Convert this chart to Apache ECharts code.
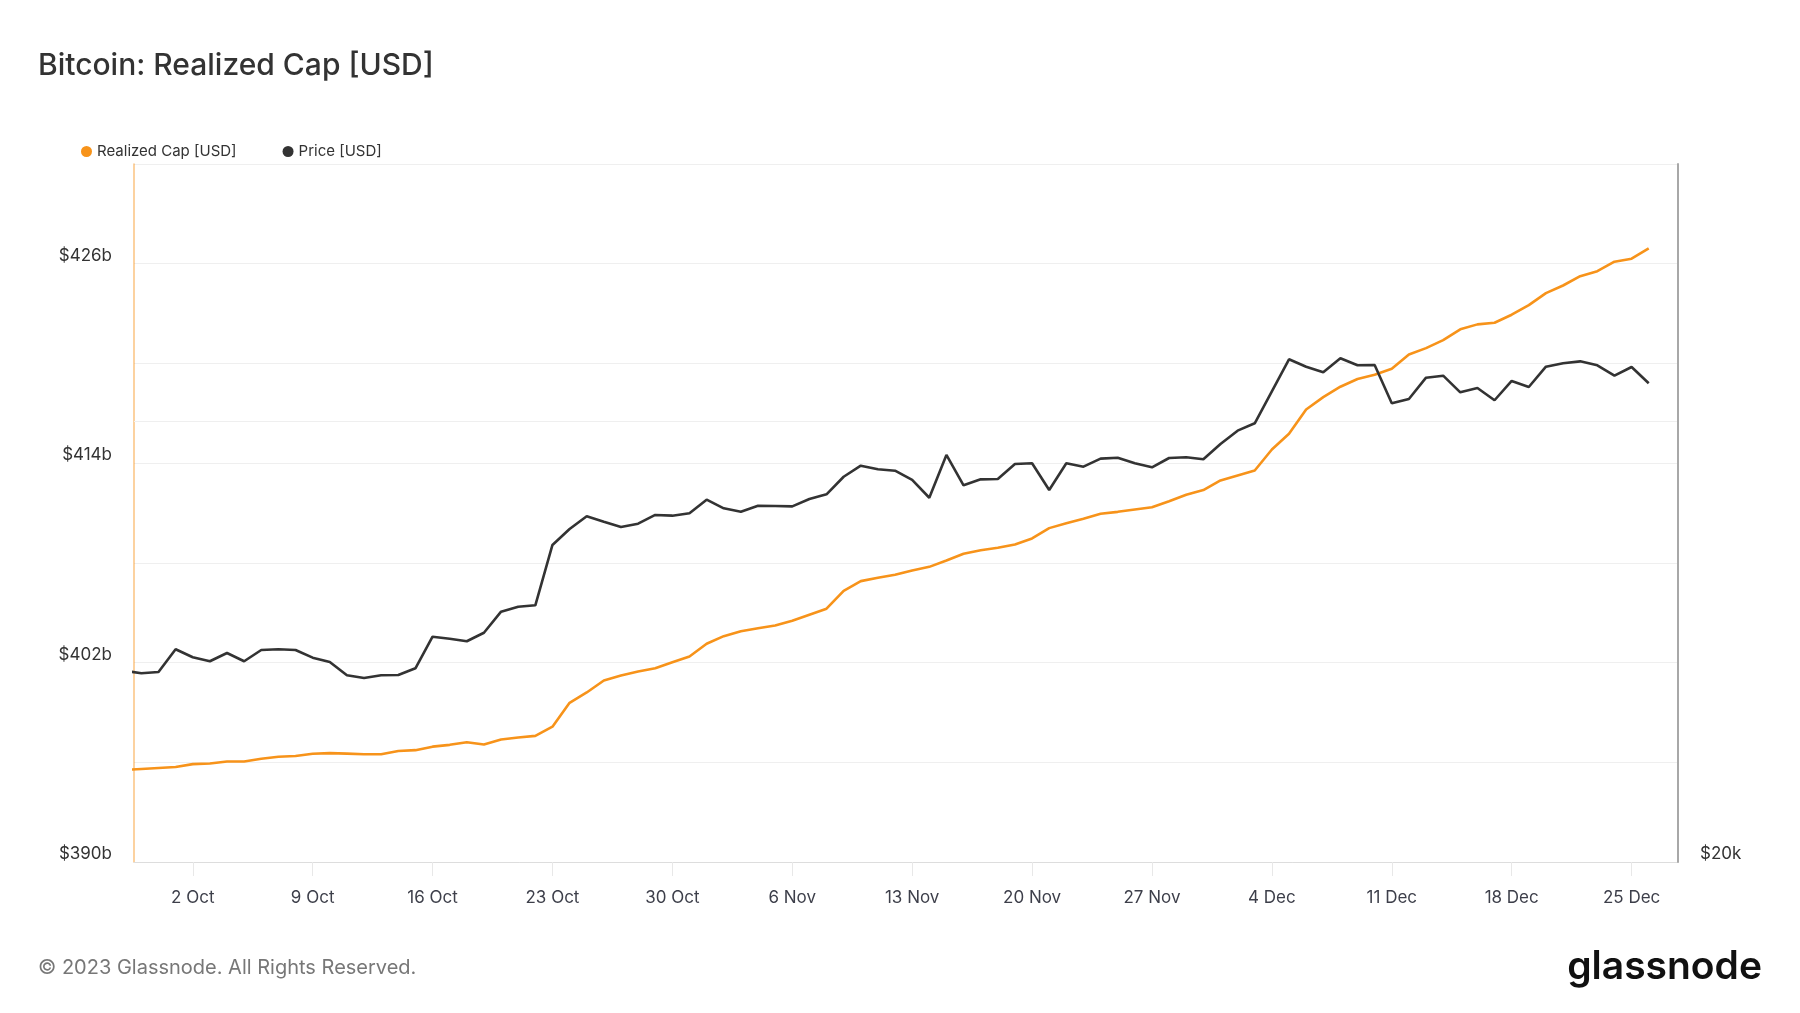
<!DOCTYPE html>
<html>
<head>
<meta charset="utf-8">
<script src="https://cdn.jsdelivr.net/npm/echarts@6/dist/echarts.min.js"></script>
<style>
  html, body { margin: 0; padding: 0; background: #ffffff; }
  #chart { width: 1800px; height: 1013px; }
</style>
</head>
<body>
<div id="chart"></div>
<script>
// ---- Data ----
const dates = [
  '2023-09-28','2023-09-29','2023-09-30',
  '2023-10-01','2023-10-02','2023-10-03','2023-10-04','2023-10-05','2023-10-06','2023-10-07',
  '2023-10-08','2023-10-09','2023-10-10','2023-10-11','2023-10-12','2023-10-13','2023-10-14',
  '2023-10-15','2023-10-16','2023-10-17','2023-10-18','2023-10-19','2023-10-20','2023-10-21',
  '2023-10-22','2023-10-23','2023-10-24','2023-10-25','2023-10-26','2023-10-27','2023-10-28',
  '2023-10-29','2023-10-30','2023-10-31',
  '2023-11-01','2023-11-02','2023-11-03','2023-11-04','2023-11-05','2023-11-06','2023-11-07',
  '2023-11-08','2023-11-09','2023-11-10','2023-11-11','2023-11-12','2023-11-13','2023-11-14',
  '2023-11-15','2023-11-16','2023-11-17','2023-11-18','2023-11-19','2023-11-20','2023-11-21',
  '2023-11-22','2023-11-23','2023-11-24','2023-11-25','2023-11-26','2023-11-27','2023-11-28',
  '2023-11-29','2023-11-30',
  '2023-12-01','2023-12-02','2023-12-03','2023-12-04','2023-12-05','2023-12-06','2023-12-07',
  '2023-12-08','2023-12-09','2023-12-10','2023-12-11','2023-12-12','2023-12-13','2023-12-14',
  '2023-12-15','2023-12-16','2023-12-17','2023-12-18','2023-12-19','2023-12-20','2023-12-21',
  '2023-12-22','2023-12-23','2023-12-24','2023-12-25','2023-12-26'
];

// Realized Cap in billions USD
const realizedCap = [
  395.53, 395.60, 395.66,
  395.72, 395.89, 395.93, 396.05, 396.05, 396.21, 396.33,
  396.38, 396.51, 396.55, 396.52, 396.48, 396.48, 396.68,
  396.73, 396.94, 397.05, 397.21, 397.07, 397.37, 397.49,
  397.59, 398.14, 399.58, 400.20, 400.92, 401.22, 401.46,
  401.66, 402.02, 402.37,
  403.13, 403.59, 403.89, 404.07, 404.23, 404.52, 404.88,
  405.24, 406.32, 406.90, 407.10, 407.28, 407.54, 407.76,
  408.14, 408.55, 408.76, 408.91, 409.11, 409.47, 410.09,
  410.39, 410.66, 410.95, 411.07, 411.21, 411.35, 411.71,
  412.10, 412.38,
  412.96, 413.26, 413.56, 414.82, 415.77, 417.23, 417.97,
  418.60, 419.06, 419.32, 419.68, 420.54, 420.92, 421.40,
  422.05, 422.35, 422.45, 422.93, 423.51, 424.23, 424.69,
  425.25, 425.55, 426.12, 426.30, 426.92
];

// BTC price in USD
const price = [
  27028, 26916, 26972,
  27954, 27604, 27431, 27792, 27431, 27922, 27954,
  27922, 27587, 27400, 26832, 26718, 26832, 26844,
  27130, 28512, 28424, 28308, 28692, 29658, 29892,
  29957, 32942, 33780, 34462, 34170, 33888, 34064,
  34534, 34496, 34626,
  35374, 34898, 34714, 35042, 35024, 35006, 35414,
  35674, 36676, 37320, 37108, 37026, 36490, 35484,
  37954, 36186, 36526, 36544, 37416, 37460, 35920,
  37460, 37262, 37734, 37790, 37460, 37224, 37774,
  37816, 37696,
  38616, 39434, 39894, 41956, 44122, 43612, 43230,
  44190, 43706, 43726, 41174, 41452, 42864, 42998,
  41888, 42174, 41368, 42642, 42240, 43612, 43844,
  43980, 43706, 42998, 43590, 42486
];

// x-axis tick labels
const tickDates = ['2023-10-02','2023-10-09','2023-10-16','2023-10-23','2023-10-30','2023-11-06',
  '2023-11-13','2023-11-20','2023-11-27','2023-12-04','2023-12-11','2023-12-18','2023-12-25'];
const tickLabels = ['2 Oct','9 Oct','16 Oct','23 Oct','30 Oct','6 Nov','13 Nov','20 Nov',
  '27 Nov','4 Dec','11 Dec','18 Dec','25 Dec'];

// left axis labelled values, right axis labelled values
const capLabelValues = [390, 402, 414, 426];
const priceLabelValues = [20000];
const priceLabelTexts = ['$20k'];

// ---- Build chart ----
const DAY = 86400000;
function toUtc(s) {
  const p = s.split('-').map(Number);
  return Date.UTC(p[0], p[1] - 1, p[2]);
}
const ref = toUtc('2023-10-02');
function dayIndex(s) { return Math.round((toUtc(s) - ref) / DAY); }

const tickX = tickDates.map(dayIndex);
const capSeries = dates.map((d, i) => [dayIndex(d), realizedCap[i]]);
const priceSeries = dates.map((d, i) => [dayIndex(d), price[i]]);

// visible date window (days relative to 2 Oct)
const xMin = -3.43;
const xMax = 86.71;

const FONT = 'Inter, "Noto Sans", sans-serif';

const chart = echarts.init(document.getElementById('chart'), null, { renderer: 'canvas' });
chart.setOption({
  animation: false,
  backgroundColor: '#ffffff',
  textStyle: { fontFamily: FONT },
  title: {
    text: 'Bitcoin: Realized Cap [USD]',
    left: 33,
    top: 46,
    textStyle: { fontFamily: FONT, fontSize: 30, fontWeight: 500, color: '#333333' }
  },
  legend: {
    left: 76,
    top: 139,
    icon: 'circle',
    itemWidth: 11,
    itemHeight: 11,
    itemGap: 46,
    textStyle: { fontFamily: FONT, fontSize: 15, color: '#333333' },
    data: ['Realized Cap [USD]', 'Price [USD]']
  },
  grid: { left: 134, right: 122, top: 164, bottom: 151, containLabel: false },
  xAxis: {
    type: 'value',
    min: xMin,
    max: xMax,
    axisLine: { show: true, onZero: false, lineStyle: { color: '#dddddd', width: 1 } },
    axisTick: {
      show: true, length: 14, customValues: tickX,
      lineStyle: { color: '#e8e8e8', width: 1 }
    },
    axisLabel: {
      customValues: tickX,
      margin: 27,
      fontFamily: FONT,
      fontSize: 17,
      color: '#3d3f4a',
      formatter: function (v) {
        let best = 0, bd = Infinity;
        tickX.forEach((t, i) => { const d = Math.abs(t - v); if (d < bd) { bd = d; best = i; } });
        return tickLabels[best];
      }
    },
    splitLine: { show: false }
  },
  yAxis: [
    {
      type: 'value',
      min: 390,
      max: 432,
      interval: 6,
      position: 'left',
      axisLine: { show: true, onZero: false, lineStyle: { color: 'rgba(247,147,26,0.55)', width: 1.5 } },
      axisTick: { show: false },
      axisLabel: {
        margin: 22,
        fontFamily: FONT,
        fontSize: 17,
        lineHeight: 16,
        color: '#333333',
        verticalAlign: 'bottom',
        formatter: function (v) {
          return capLabelValues.indexOf(Math.round(v)) >= 0 ? '$' + Math.round(v) + 'b' : '';
        }
      },
      splitLine: { show: true, lineStyle: { color: '#efefef', width: 1 } }
    },
    {
      type: 'log',
      logBase: 3,
      min: 20000,
      max: 60000,
      position: 'right',
      z: 10,
      axisLine: { show: true, onZero: false, lineStyle: { color: '#a8a8a8', width: 2 } },
      axisTick: { show: false },
      axisLabel: {
        margin: 22,
        fontFamily: FONT,
        fontSize: 17,
        lineHeight: 16,
        color: '#333333',
        verticalAlign: 'bottom',
        formatter: function (v) {
          for (let i = 0; i < priceLabelValues.length; i++) {
            if (Math.abs(v - priceLabelValues[i]) < 1) return priceLabelTexts[i];
          }
          return '';
        }
      },
      splitLine: { show: false }
    }
  ],
  series: [
    {
      name: 'Realized Cap [USD]',
      type: 'line',
      yAxisIndex: 0,
      data: capSeries,
      showSymbol: false,
      symbol: 'circle',
      color: '#f7931a',
      lineStyle: { color: '#f7931a', width: 2.6 },
      clip: true,
      z: 3
    },
    {
      name: 'Price [USD]',
      type: 'line',
      yAxisIndex: 1,
      data: priceSeries,
      showSymbol: false,
      symbol: 'circle',
      color: '#333333',
      lineStyle: { color: '#333333', width: 2.6 },
      clip: true,
      z: 4,
      markLine: {
        silent: true,
        symbol: 'none',
        label: { show: false },
        lineStyle: { color: '#efefef', width: 1, type: 'solid' },
        data: [{ yAxis: 40000 }],
        z: 1
      }
    }
  ],
  graphic: [
    {
      type: 'text',
      left: 38,
      top: 958,
      style: {
        text: '© 2023 Glassnode. All Rights Reserved.',
        font: '400 20px ' + FONT,
        fill: '#777777'
      }
    },
    {
      type: 'text',
      right: 38,
      top: 948,
      style: {
        text: 'glassnode',
        font: '600 39px ' + FONT,
        fill: '#111111'
      }
    }
  ]
});
</script>
</body>
</html>
